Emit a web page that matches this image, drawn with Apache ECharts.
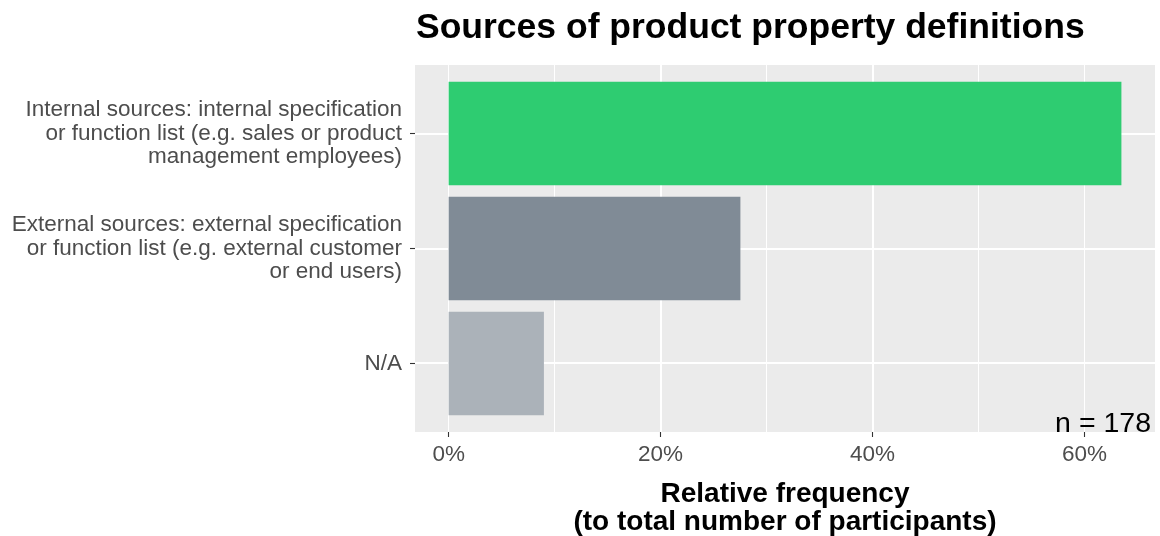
<!DOCTYPE html>
<html>
<head>
<meta charset="utf-8">
<script src="https://cdn.jsdelivr.net/npm/echarts@6/dist/echarts.min.js"></script>
<style>
html,body{margin:0;padding:0;background:#fff;}
#chart{width:1160px;height:536px;}
</style>
</head>
<body>
<div id="chart"></div>
<script>
// ---- data ----
var categories = [
  'Internal sources: internal specification\nor function list (e.g. sales or product\nmanagement employees)',
  'External sources: external specification\nor function list (e.g. external customer\nor end users)',
  'N/A'
];
var values = [63.48, 27.53, 8.99];          // percent of participants
var barColors = ['#2ECC71', '#808B96', '#ABB2B9'];
var xTicks = [0, 20, 40, 60];
var titleText = 'Sources of product property definitions';
var xTitle = 'Relative frequency\n(to total number of participants)';
var nText = 'n = 178';

var FONT = '"Liberation Sans", Arial, sans-serif';
var xMin = -3.174, xMax = 66.65;

var chart = echarts.init(document.getElementById('chart'), null, {renderer: 'canvas'});
chart.setOption({
  animation: false,
  backgroundColor: '#FFFFFF',
  textStyle: {fontFamily: FONT},
  grid: [
    {left: 415, right: 5, top: 65, bottom: 104, show: true, backgroundColor: '#EBEBEB', borderWidth: 0,
     containLabel: false, outerBoundsMode: 'none'},
    {left: 415, right: 5, top: 76, bottom: 115, containLabel: false, outerBoundsMode: 'none'}
  ],
  xAxis: [
    { // major axis with labels
      type: 'value', gridIndex: 0, position: 'bottom', min: xMin, max: xMax, splitNumber: 4,
      axisLine: {show: false, onZero: false},
      axisTick: {show: true, customValues: xTicks, length: 5, lineStyle: {color: '#333333', width: 1.1}},
      axisLabel: {customValues: xTicks, formatter: function (v) { return Math.round(v) + '%'; },
        fontSize: 22.5, color: '#4D4D4D', margin: 11, fontFamily: FONT},
      splitLine: {show: true, showMinLine: false, showMaxLine: false, lineStyle: {color: '#FFFFFF', width: 2}},
      name: xTitle, nameLocation: 'middle', nameGap: 48,
      nameTextStyle: {fontSize: 28, fontWeight: 'bold', color: '#000000', lineHeight: 28, fontFamily: FONT}
    },
    { // minor grid lines
      type: 'value', gridIndex: 0, position: 'bottom', min: xMin, max: xMax, splitNumber: 7,
      axisLine: {show: false, onZero: false}, axisTick: {show: false}, axisLabel: {show: false},
      splitLine: {show: true, showMinLine: false, showMaxLine: false, lineStyle: {color: '#FFFFFF', width: 1}}
    },
    { // bars axis
      type: 'value', gridIndex: 1, min: xMin, max: xMax, show: false, axisLine: {onZero: false}
    }
  ],
  yAxis: [
    {
      type: 'value', gridIndex: 0, inverse: true, min: -0.6, max: 2.6, splitNumber: 3,
      axisLine: {show: false, onZero: false}, axisTick: {show: false}, axisLabel: {show: false},
      splitLine: {show: true, showMinLine: false, showMaxLine: false, lineStyle: {color: '#FFFFFF', width: 2}}
    },
    {
      type: 'category', gridIndex: 1, inverse: true, position: 'left', data: categories,
      axisLine: {show: false, onZero: false},
      axisTick: {show: true, alignWithLabel: true, length: 5, lineStyle: {color: '#333333', width: 1.1}},
      axisLabel: {fontSize: 22.5, color: '#4D4D4D', margin: 13, lineHeight: 23.5, align: 'right', fontFamily: FONT},
      splitLine: {show: false}
    }
  ],
  series: [{
    type: 'bar', xAxisIndex: 2, yAxisIndex: 1, barWidth: '90%',
    data: values.map(function (v, i) { return {value: v, itemStyle: {color: barColors[i]}}; })
  }],
  graphic: [
    {type: 'text', left: 416, top: 10, style: {text: titleText, font: 'bold 35.5px ' + FONT, fill: '#000000'}},
    {type: 'text', x: 1151, y: 424, style: {text: nText, font: '28.5px ' + FONT, fill: '#000000', align: 'right', verticalAlign: 'middle'}, z: 100}
  ]
});
</script>
</body>
</html>
